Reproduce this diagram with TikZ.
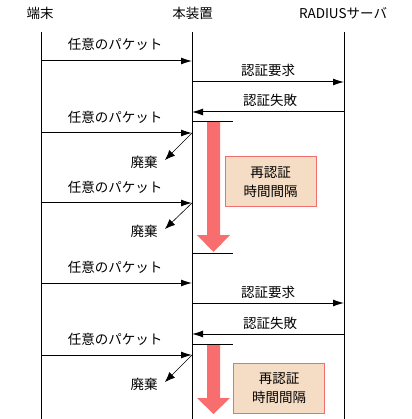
\documentclass[tikz,border=0pt]{standalone}
\usepackage{fontspec}
\setmainfont{Noto Sans CJK JP}
\usetikzlibrary{arrows.meta}
\definecolor{arrowred}{RGB}{248,110,110}
\definecolor{boxfill}{RGB}{245,220,196}
\definecolor{boxline}{RGB}{240,110,110}
\begin{document}
\begin{tikzpicture}[x=1pt,y=-1pt,
  lbl/.style={font=\fontsize{13.5}{18.5}\selectfont, inner sep=0pt},
  msg/.style={line width=1pt,-{Latex[length=11pt,width=7pt]}},
  drop/.style={line width=0.6pt,-{Latex[length=10pt,width=8pt]}},
  life/.style={line width=1pt},
  tickline/.style={line width=1pt},
  redarrow/.style={fill=arrowred},
  ibox/.style={lbl,draw=boxline,fill=boxfill,line width=1pt,align=center,
    minimum width=91pt,minimum height=50pt}]
\useasboundingbox[fill=white] (0,0) rectangle (411,419);
% headers
\node[lbl] (hA) at (40,13) {端末};
\node[lbl] (hB) at (192.5,13) {本装置};
\node[lbl] (hC) at (343,13) {RADIUSサーバ};
% lifelines
\coordinate (A0) at (41,32);  \coordinate (A1) at (41,419);
\coordinate (B0) at (192,32); \coordinate (B1) at (192,419);
\coordinate (C0) at (344,32); \coordinate (C1) at (344,419);
\draw[life] (A0) -- (A1);
\draw[life] (B0) -- (B1);
\draw[life] (C0) -- (C1);
% red interval arrows
\fill[redarrow] (207,122) -- (220,122) -- (220,235) -- (230,235) -- (213.5,252) -- (197,235) -- (207,235) -- cycle;
\fill[redarrow] (207,344) -- (220,344) -- (220,398) -- (230,398) -- (213.5,414) -- (197,398) -- (207,398) -- cycle;
% message 1
\coordinate (a1) at (41,61); \coordinate (b1) at (192,61);
\draw[msg] (a1) -- (b1);
\node[lbl] (l1) at (115,44) {任意のパケット};
% message 2
\coordinate (b2) at (192,82); \coordinate (c2) at (344,82);
\draw[msg] (b2) -- (c2);
\node[lbl] (l2) at (268,70) {認証要求};
% message 3
\coordinate (c3) at (344,112); \coordinate (b3) at (192,112);
\draw[msg] (c3) -- (b3);
\node[lbl] (l3) at (270,100) {認証失敗};
% tick 1
\coordinate (t1s) at (192,122); \coordinate (t1e) at (233,122);
\draw[tickline] (t1s) -- (t1e);
% message 4
\coordinate (a4) at (41,133); \coordinate (b4) at (192,133);
\draw[msg] (a4) -- (b4);
\node[lbl] (l4) at (115,117) {任意のパケット};
\coordinate (d4) at (165,160);
\draw[drop] (b4) -- (d4);
\node[lbl] (x4) at (144,162) {廃棄};
% box 1
\node[ibox] (r1) at (270.7,182) {再認証\\時間間隔};
% message 5
\coordinate (a5) at (41,203); \coordinate (b5) at (192,203);
\draw[msg] (a5) -- (b5);
\node[lbl] (l5) at (115,187) {任意のパケット};
\coordinate (d5) at (165,229);
\draw[drop] (b5) -- (d5);
\node[lbl] (x5) at (144,231) {廃棄};
% tick 2
\coordinate (t2s) at (192,253); \coordinate (t2e) at (233,253);
\draw[tickline] (t2s) -- (t2e);
% message 6
\coordinate (a6) at (41,283); \coordinate (b6) at (192,283);
\draw[msg] (a6) -- (b6);
\node[lbl] (l6) at (115,267) {任意のパケット};
% message 7
\coordinate (b7) at (192,303); \coordinate (c7) at (344,303);
\draw[msg] (b7) -- (c7);
\node[lbl] (l7) at (268,292) {認証要求};
% message 8
\coordinate (c8) at (344,334); \coordinate (b8) at (192,334);
\draw[msg] (c8) -- (b8);
\node[lbl] (l8) at (270,323) {認証失敗};
% tick 3
\coordinate (t3s) at (192,344); \coordinate (t3e) at (233,344);
\draw[tickline] (t3s) -- (t3e);
% message 9
\coordinate (a9) at (41,355); \coordinate (b9) at (192,355);
\draw[msg] (a9) -- (b9);
\node[lbl] (l9) at (115,339) {任意のパケット};
\coordinate (d9) at (165,382);
\draw[drop] (b9) -- (d9);
\node[lbl] (x9) at (144,384) {廃棄};
% box 2
\node[ibox] (r2) at (279,388) {再認証\\時間間隔};
\end{tikzpicture}
\end{document}
